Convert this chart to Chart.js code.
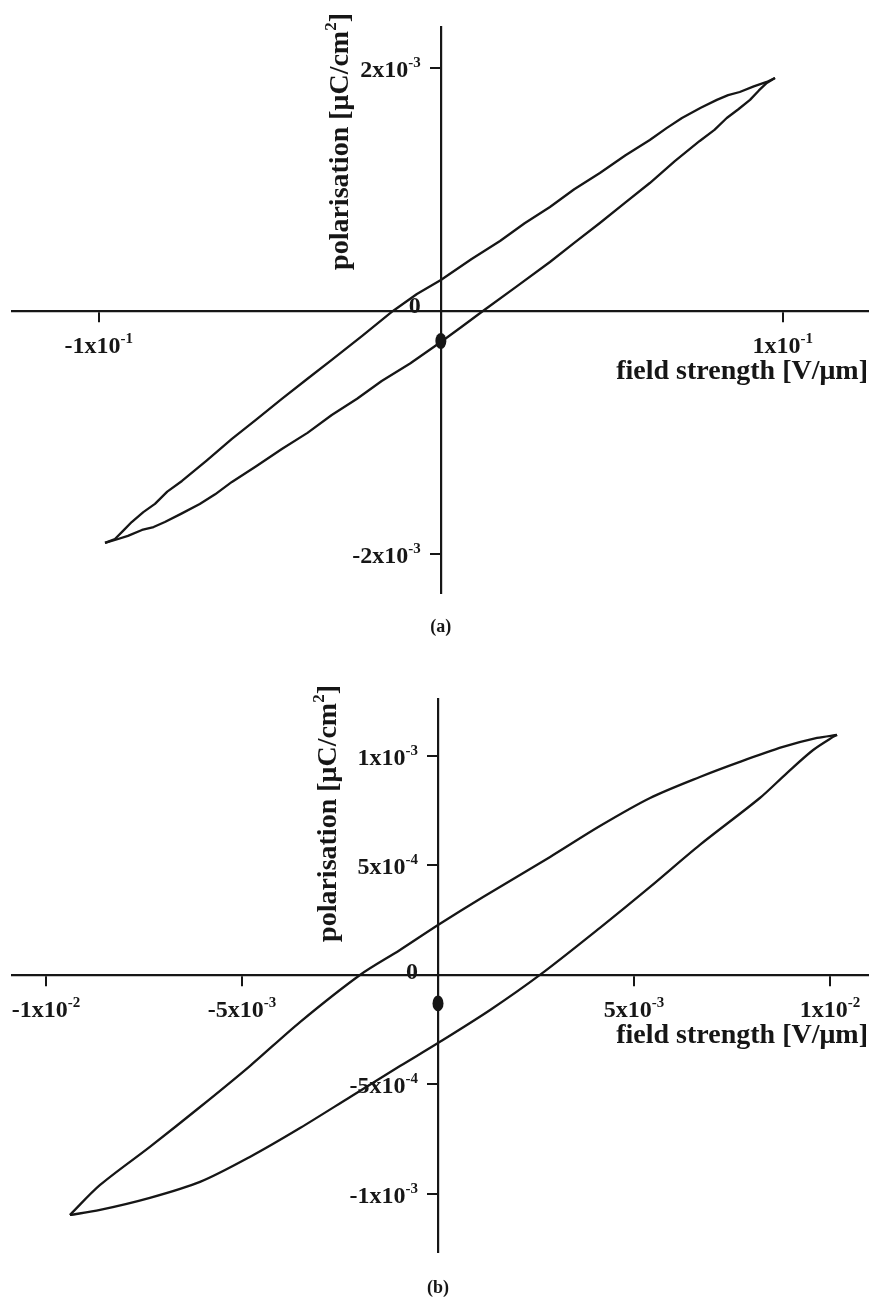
<!DOCTYPE html>
<html>
<head>
<meta charset="utf-8">
<script src="https://cdn.jsdelivr.net/npm/chart.js"></script>
<style>
  html, body { margin: 0; padding: 0; background: #fff; }
  #wrap { position: relative; width: 873px; height: 1297px; }
  canvas { position: absolute; left: 0; }
  #chart-a { top: 0; }
  #chart-b { top: 648px; }
</style>
</head>
<body>
<div id="wrap">
  <canvas id="chart-a" width="873" height="648"></canvas>
  <canvas id="chart-b" width="873" height="649"></canvas>
</div>
<script>
/* ==========================
   Data
========================== */
// (a) field strength [V/um] / polarisation [uC/cm2]
const aUpperE = [0.0977, 0.0953, 0.0915, 0.0874, 0.0840, 0.0807, 0.0760, 0.0705, 0.0660, 0.0611, 0.0540, 0.0465, 0.0390, 0.0319, 0.0245, 0.0173, 0.0090, 0, -0.0070, -0.0140, -0.0230, -0.0319, -0.0390, -0.0465, -0.0540, -0.0611, -0.0685, -0.0757, -0.0800, -0.0836, -0.0870, -0.0904, -0.0930, -0.0953, -0.0982];
const aUpperP = [1.918e-3, 1.885e-3, 1.848e-3, 1.802e-3, 1.776e-3, 1.737e-3, 1.672e-3, 1.588e-3, 1.505e-3, 1.407e-3, 1.281e-3, 1.136e-3, 1.002e-3, 0.856e-3, 0.722e-3, 0.576e-3, 0.428e-3, 0.255e-3, 0.140e-3, 0, -0.205e-3, -0.403e-3, -0.558e-3, -0.724e-3, -0.895e-3, -1.053e-3, -1.232e-3, -1.399e-3, -1.487e-3, -1.588e-3, -1.655e-3, -1.737e-3, -1.812e-3, -1.877e-3, -1.909e-3];
const aLowerE = [-0.0982, -0.0953, -0.0915, -0.0874, -0.0840, -0.0807, -0.0760, -0.0705, -0.0660, -0.0611, -0.0540, -0.0465, -0.0390, -0.0319, -0.0245, -0.0173, -0.0090, 0, 0.0060, 0.0123, 0.0220, 0.0319, 0.0390, 0.0465, 0.0540, 0.0611, 0.0685, 0.0757, 0.0800, 0.0836, 0.0870, 0.0904, 0.0930, 0.0953, 0.0977];
const aLowerP = [-1.909e-3, -1.885e-3, -1.851e-3, -1.802e-3, -1.778e-3, -1.737e-3, -1.670e-3, -1.588e-3, -1.509e-3, -1.407e-3, -1.278e-3, -1.136e-3, -1.003e-3, -0.856e-3, -0.722e-3, -0.576e-3, -0.432e-3, -0.255e-3, -0.132e-3, 0, 0.198e-3, 0.403e-3, 0.560e-3, 0.724e-3, 0.893e-3, 1.053e-3, 1.236e-3, 1.399e-3, 1.490e-3, 1.588e-3, 1.660e-3, 1.737e-3, 1.815e-3, 1.877e-3, 1.918e-3];
const aDot = [0, -0.247e-3];

const aXTicks = [-0.1, 0.1];
const aXTickLabels = ['-1x10^-1', '1x10^-1'];
const aYTicks = [-2e-3, 2e-3];
const aYTickLabels = ['-2x10^-3', '2x10^-3'];

// (b)
const bUpperE = [0.01018, 0.00967, 0.00880, 0.00770, 0.00668, 0.00541, 0.00413, 0.00286, 0.00115, 0, -0.00097, -0.00199, -0.00352, -0.00480, -0.00607, -0.00735, -0.00862, -0.00939];
const bUpperP = [1.096e-3, 1.082e-3, 1.041e-3, 0.973e-3, 0.904e-3, 0.808e-3, 0.680e-3, 0.539e-3, 0.356e-3, 0.228e-3, 0.114e-3, 0, -0.215e-3, -0.416e-3, -0.603e-3, -0.785e-3, -0.959e-3, -1.096e-3];
const bLowerE = [-0.00939, -0.00862, -0.00735, -0.00607, -0.00480, -0.00352, -0.00224, -0.00097, 0, 0.00133, 0.00260, 0.00413, 0.00541, 0.00668, 0.00821, 0.00890, 0.00957, 0.01008, 0.01018];
const bLowerP = [-1.096e-3, -1.073e-3, -1.018e-3, -0.945e-3, -0.831e-3, -0.699e-3, -0.557e-3, -0.416e-3, -0.311e-3, -0.160e-3, 0, 0.215e-3, 0.402e-3, 0.594e-3, 0.808e-3, 0.922e-3, 1.027e-3, 1.087e-3, 1.096e-3];
const bDot = [0, -0.13e-3];

const bXTicks = [-1e-2, -5e-3, 5e-3, 1e-2];
const bXTickLabels = ['-1x10^-2', '-5x10^-3', '5x10^-3', '1x10^-2'];
const bYTicks = [-1e-3, -5e-4, 5e-4, 1e-3];
const bYTickLabels = ['-1x10^-3', '-5x10^-4', '5x10^-4', '1x10^-3'];

const xTitle = ['field strength [V/μm]'];
const yTitle = ['polarisation [μC/cm', '2', ']'];

/* ==========================
   Drawing helpers
========================== */
const INK = '#161616';
const SERIF = '"Liberation Serif", "Times New Roman", serif';

function toPoints(xs, ys) {
  return xs.map((v, i) => ({ x: v, y: ys[i] }));
}

// draws "base^exp" with a raised exponent
function drawSci(ctx, text, px, py, align, size) {
  const [base, exp] = text.split('^');
  const es = Math.round(size * 0.62);
  ctx.font = `bold ${size}px ${SERIF}`;
  const wb = ctx.measureText(base).width;
  ctx.font = `bold ${es}px ${SERIF}`;
  const we = exp ? ctx.measureText(exp).width : 0;
  const total = wb + we;
  let sx = px;
  if (align === 'center') sx = px - total / 2;
  if (align === 'right') sx = px - total;
  ctx.font = `bold ${size}px ${SERIF}`;
  ctx.fillText(base, sx, py);
  if (exp) {
    ctx.font = `bold ${es}px ${SERIF}`;
    ctx.fillText(exp, sx + wb, py - size * 0.42);
  }
}

// parts alternate: normal, superscript, normal ...
function partsWidth(ctx, parts, size) {
  let w = 0;
  parts.forEach((p, i) => {
    ctx.font = `bold ${i % 2 ? Math.round(size * 0.62) : size}px ${SERIF}`;
    w += ctx.measureText(p).width;
  });
  return w;
}
function drawParts(ctx, parts, x, y, size) {
  let cx = x;
  parts.forEach((p, i) => {
    const sup = i % 2 === 1;
    ctx.font = `bold ${sup ? Math.round(size * 0.62) : size}px ${SERIF}`;
    ctx.fillText(p, cx, sup ? y - size * 0.42 : y);
    cx += ctx.measureText(p).width;
  });
}

const sciLabels = {
  id: 'sciLabels',
  afterDraw(chart, args, o) {
    const { ctx, chartArea, scales: { x, y } } = chart;
    const x0 = x.getPixelForValue(0);
    const y0 = y.getPixelForValue(0);
    ctx.save();
    ctx.fillStyle = INK;
    ctx.textAlign = 'left';
    ctx.textBaseline = 'alphabetic';

    o.xTicks.forEach((v, i) => drawSci(ctx, o.xLabels[i], x.getPixelForValue(v), y0 + o.xLabelDy, 'center', 24));
    o.yTicks.forEach((v, i) => drawSci(ctx, o.yLabels[i], x0 - o.yLabelDx, y.getPixelForValue(v) + 9, 'right', 24));
    drawSci(ctx, '0', x0 - o.zeroDx, y0 + o.zeroDy, 'right', 24);

    // x title, right aligned under the axis
    const wx = partsWidth(ctx, xTitle, 28);
    drawParts(ctx, xTitle, chartArea.right - wx, y0 + o.xTitleDy, 28);

    // y title, rotated, reading upwards
    const wy = partsWidth(ctx, yTitle, 28);
    ctx.save();
    ctx.translate(x0 - o.yTitleDx, chartArea.top - 14 + wy);
    ctx.rotate(-Math.PI / 2);
    drawParts(ctx, yTitle, 0, 0, 28);
    ctx.restore();

    // marker on the polarisation axis
    const dx = x.getPixelForValue(o.dot[0]);
    const dy = y.getPixelForValue(o.dot[1]);
    ctx.beginPath();
    ctx.ellipse(dx, dy, 5.5, 8, 0, 0, Math.PI * 2);
    ctx.fill();

    // caption
    ctx.font = `bold 18px ${SERIF}`;
    ctx.textAlign = 'center';
    ctx.fillText(o.caption, x0, o.captionY);
    ctx.restore();
  }
};

function axis(min, max, ticks, pos) {
  return {
    type: 'linear',
    min: min,
    max: max,
    position: pos,
    afterBuildTicks: (scale) => { scale.ticks = ticks.map(v => ({ value: v })); },
    ticks: { display: false },
    grid: {
      display: true,
      drawOnChartArea: false,
      drawTicks: true,
      tickLength: 10,
      tickWidth: 2,
      tickColor: INK,
      color: INK,
      lineWidth: 2,
    },
    border: { display: true, color: INK, width: 2.2 },
  };
}

function makeChart(id, d) {
  return new Chart(document.getElementById(id), {
    type: 'scatter',
    data: {
      datasets: [
        { data: toPoints(d.upE, d.upP) },
        { data: toPoints(d.loE, d.loP) },
      ].map(ds => Object.assign(ds, {
        showLine: true,
        borderColor: INK,
        borderWidth: 2.3,
        pointRadius: 0,
        tension: d.tension,
        borderJoinStyle: 'round',
      })),
    },
    options: {
      responsive: false,
      animation: false,
      layout: { padding: d.padding },
      scales: {
        x: axis(d.xMin, d.xMax, d.xTicks, { y: 0 }),
        y: axis(d.yMin, d.yMax, d.yTicks, { x: 0 }),
      },
      plugins: {
        legend: { display: false },
        tooltip: { enabled: false },
        sciLabels: d.labels,
      },
    },
    plugins: [sciLabels],
  });
}

makeChart('chart-a', {
  upE: aUpperE, upP: aUpperP, loE: aLowerE, loP: aLowerP, tension: 0,
  xMin: -0.1254, xMax: 0.1249, yMin: -2.321e-3, yMax: 2.337e-3,
  xTicks: aXTicks, yTicks: aYTicks,
  padding: { left: 12, right: 5, top: 27, bottom: 55 },
  labels: {
    xTicks: aXTicks, xLabels: aXTickLabels, yTicks: aYTicks, yLabels: aYTickLabels,
    xLabelDy: 42, yLabelDx: 20, zeroDx: 20, zeroDy: 2,
    xTitleDy: 68, yTitleDx: 93, dot: aDot, caption: '(a)', captionY: 632,
  },
});

makeChart('chart-b', {
  upE: bUpperE, upP: bUpperP, loE: bLowerE, loP: bLowerP, tension: 0.3,
  xMin: -0.010867, xMax: 0.010969, yMin: -1.265e-3, yMax: 1.260e-3,
  xTicks: bXTicks, yTicks: bYTicks,
  padding: { left: 12, right: 5, top: 51, bottom: 45 },
  labels: {
    xTicks: bXTicks, xLabels: bXTickLabels, yTicks: bYTicks, yLabels: bYTickLabels,
    xLabelDy: 42, yLabelDx: 20, zeroDx: 20, zeroDy: 4,
    xTitleDy: 68, yTitleDx: 102, dot: bDot, caption: '(b)', captionY: 645,
  },
});
</script>
</body>
</html>
